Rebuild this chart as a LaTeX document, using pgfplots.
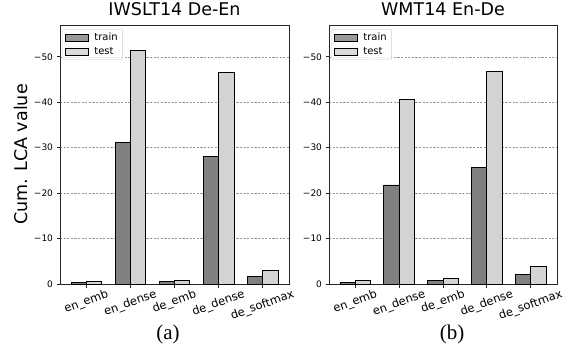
\documentclass[border=0pt]{standalone}
\usepackage{fontspec}
\setmainfont{DejaVu Sans}
\newfontfamily\capfont{Liberation Serif}
\usepackage{graphicx}
\usepackage{pgfplots}
\pgfplotsset{compat=1.18}
\definecolor{trainc}{HTML}{808080}
\definecolor{testc}{HTML}{D3D3D3}
\newcommand{\rl}[1]{\rotatebox{20}{#1}}
\pgfplotsset{
 lbox/.style={legend image code/.code={\draw[##1,line width=0.9pt,sharp corners] (0pt,-3.5pt) rectangle (23pt,3.5pt);}},
 lcastyle/.style={
  scale only axis, width=229pt, height=259pt,
  ybar=0pt, bar width=0.35,
  y dir=reverse, ymin=-57, ymax=0,
  xmin=-0.6, xmax=4.6,
  xtick={0,1,2,3,4},
  xticklabels={\rl{en\_emb},\rl{en\_dense},\rl{de\_emb},\rl{de\_dense},\rl{de\_softmax}},
  ytick={-50,-40,-30,-20,-10,0},
  yticklabels={−50,−40,−30,−20,−10,0},
  tick pos=left, tick align=outside, major tick length=3.5pt,
  axis line style={black!85, line width=0.8pt},
  tick style={black!85, line width=0.8pt},
  ymajorgrids, grid style={gray!80, dash pattern=on 2.2pt off 1.4pt, line width=0.6pt},
  xticklabel style={font=\fontsize{11.5}{13}\selectfont, anchor=north, inner sep=1pt},
  yticklabel style={font=\fontsize{9}{10}\selectfont},
  title style={font=\fontsize{17.5}{20}\selectfont, anchor=base, at={(0.5,1)}, yshift=3.5pt},
  legend style={at={(0.01,0.985)}, anchor=north west, font=\fontsize{10}{12}\selectfont,
     draw=black!20, rounded corners=2pt, fill=white, fill opacity=0.8, text opacity=1,
     inner xsep=3pt, inner ysep=2pt, row sep=1pt,
     /tikz/every odd column/.append style={column sep=3pt}},
  legend cell align=left,
 },
}
\begin{document}
\begin{tikzpicture}
\useasboundingbox (0pt,0pt) rectangle (575pt,-349pt);
\begin{axis}[lcastyle, name=ax1, at={(60pt,-284pt)}, anchor=south west,
  title={IWSLT14 De-En},
  ylabel={Cum. LCA value},
  ylabel style={font=\fontsize{17.5}{20}\selectfont, at={(axis description cs:-0.17,0.5)}, anchor=center}]
\addplot[fill=trainc, draw=black, line width=0.9pt, lbox] coordinates {(0,-0.4) (1,-31.1) (2,-0.5) (3,-28.0) (4,-1.7)};
\addplot[fill=testc, draw=black, line width=0.9pt, lbox] coordinates {(0,-0.6) (1,-51.4) (2,-0.7) (3,-46.5) (4,-3.0)};
\legend{train,test}
\end{axis}
\begin{axis}[lcastyle, name=ax2, at={(329pt,-284pt)}, anchor=south west, width=228pt,
  title={WMT14 En-De}]
\addplot[fill=trainc, draw=black, line width=0.9pt, lbox] coordinates {(0,-0.4) (1,-21.8) (2,-0.7) (3,-25.7) (4,-2.2)};
\addplot[fill=testc, draw=black, line width=0.9pt, lbox] coordinates {(0,-0.7) (1,-40.7) (2,-1.25) (3,-46.8) (4,-3.9)};
\legend{train,test}
\end{axis}
\node[font=\capfont\fontsize{21}{24}\selectfont] at (168pt,-334pt) {(a)};
\node[font=\capfont\fontsize{21}{24}\selectfont] at (452pt,-334pt) {(b)};
\end{tikzpicture}
\end{document}
